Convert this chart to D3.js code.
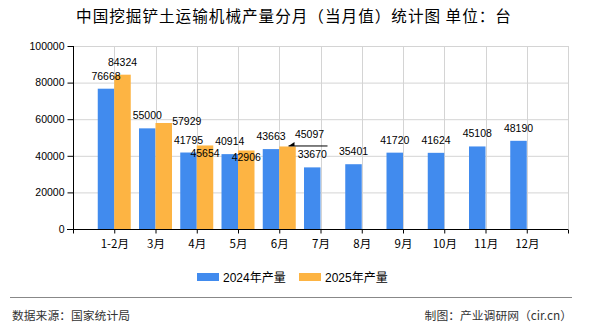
<!DOCTYPE html>
<html><head><meta charset="utf-8">
<script src="https://cdn.jsdelivr.net/npm/d3@7"></script>
<style>
html,body{margin:0;padding:0;background:#fff;}
svg{display:block;}
</style></head>
<body>
<svg id="chart" width="590" height="330"></svg>
<script>
const categories = ["1-2月","3月","4月","5月","6月","7月","8月","9月","10月","11月","12月"];
const values2024 = [76668,55000,41795,40914,43663,33670,35401,41720,41624,45108,48190];
const values2025 = [84324,57929,45654,42906,45097,null,null,null,null,null,null];
const seriesNames = ["2024年产量","2025年产量"];
const seriesColors = ["#418bee","#fdb443"];
const yTicks = [0,20000,40000,60000,80000,100000];
const title = "中国挖掘铲土运输机械产量分月（当月值）统计图 单位：台";
const sourceText = "数据来源：国家统计局";
const creditText = "制图：产业调研网（cir.cn）";

const svg = d3.select("#chart");
const fontNum = "'Liberation Sans','Noto Sans CJK SC',sans-serif";
const fontCJK = "'Noto Sans CJK SC','Liberation Sans',sans-serif";
const L = 73, R = 568, T = 46, B = 229;

const x = d3.scalePoint().domain(categories).range([L, R]).padding(1);
const y = d3.scaleLinear().domain([0, 100000]).range([B, T]);
const sub = d3.scaleBand().domain([0,1]).range([-16.5, 16.5]);

// title
svg.append("text").attr("x", 294).attr("y", 22).attr("text-anchor","middle")
  .style("font-family", fontCJK).style("font-size","15.6px").style("letter-spacing","1px")
  .style("white-space","pre").attr("fill","#000").text(title);

// gridlines
const g = svg.append("g");
g.selectAll(".hg").data(yTicks.filter(d=>d>0)).enter().append("line")
  .attr("x1", L).attr("x2", R).attr("y1", d=>y(d)+0.5).attr("y2", d=>y(d)+0.5)
  .attr("stroke","#d4d4d4").attr("stroke-width",1);
g.selectAll(".vg").data(categories).enter().append("line")
  .attr("x1", d=>Math.round(x(d))+0.5).attr("x2", d=>Math.round(x(d))+0.5).attr("y1", T).attr("y2", B)
  .attr("stroke","#d4d4d4").attr("stroke-width",1);
g.append("line").attr("x1",R+0.5).attr("x2",R+0.5).attr("y1",T).attr("y2",B)
  .attr("stroke","#d4d4d4").attr("stroke-width",1);

// bars
const series = [values2024, values2025];
series.forEach((vals, si) => {
  svg.append("g").selectAll("rect").data(categories.map((c,i)=>({c, v: vals[i]})).filter(d=>d.v!=null))
    .enter().append("rect")
    .attr("x", d => x(d.c) + sub(si))
    .attr("width", sub.bandwidth())
    .attr("y", d => y(d.v))
    .attr("height", d => B - y(d.v))
    .attr("fill", seriesColors[si]);
});

// axes
const yAxis = d3.axisLeft(y).tickValues(yTicks).tickSize(6).tickPadding(3).tickFormat(d3.format("d"));
const ya = svg.append("g").attr("transform",`translate(${L+0.5},0)`).call(yAxis);
ya.select(".domain").attr("stroke","#000").attr("d", `M0,${T}V${B}`);
ya.selectAll("text").style("font-family", fontNum).style("font-size","10.5px").attr("fill","#000");
ya.selectAll(".tick line").attr("stroke","#000");

const xAxis = d3.axisBottom(x).tickSize(4).tickPadding(6);
const xa = svg.append("g").attr("transform",`translate(0,${B+0.5})`).call(xAxis);
xa.select(".domain").attr("stroke","#000").attr("d", `M${L-6},0H${R}`);
xa.selectAll(".tick line").attr("stroke","#000");
xa.selectAll("text").style("font-family", fontCJK).style("font-size","11.5px").attr("fill","#000");
xa.append("line").attr("x1",L+0.5).attr("x2",L+0.5).attr("y1",0).attr("y2",4).attr("stroke","#000");
xa.append("line").attr("x1",R+0.5).attr("x2",R+0.5).attr("y1",0).attr("y2",4).attr("stroke","#000");

// data labels (with collision offsets)
const shifts = [
  {},
  {1:[23,11], 2:[0,21], 3:[0,20], 4:[22,1]}
];
series.forEach((vals, si) => {
  svg.append("g").selectAll("text").data(categories.map((c,i)=>({c, v: vals[i], i})).filter(d=>d.v!=null))
    .enter().append("text")
    .attr("x", d => x(d.c) + sub(si) + sub.bandwidth()/2 + ((shifts[si][d.i]||[0,0])[0]))
    .attr("y", d => y(d.v) - 9 + ((shifts[si][d.i]||[0,0])[1]))
    .attr("text-anchor","middle")
    .style("font-family", fontNum).style("font-size","10.5px").attr("fill","#000")
    .text(d => d.v);
});
// leader line for 6月 2025 label
{
  const c = categories[4], v = values2025[4];
  const x0 = x(c) + sub(1) + sub.bandwidth()/2 + 1, y0 = y(v) - 0.5;
  svg.append("line").attr("x1", x0).attr("x2", x0 + 39).attr("y1", y0).attr("y2", y0)
    .attr("stroke","#000").attr("stroke-width",1);
  svg.append("path").attr("d", `M${x0},${y0}L${x0+6},${y0-4}L${x0+6},${y0}Z`).attr("fill","#000");
}

// legend
const lg = svg.append("g");
const legX = [197, 299];
seriesNames.forEach((n, i) => {
  lg.append("rect").attr("x", legX[i]).attr("y", 273).attr("width", 22).attr("height", 8).attr("fill", seriesColors[i]);
  lg.append("text").attr("x", legX[i]+26).attr("y", 281.5).style("font-family", fontNum)
    .style("font-size","12px").attr("fill","#000").text(n);
});

// footer
svg.append("line").attr("x1",10).attr("x2",572).attr("y1",297.5).attr("y2",297.5).attr("stroke","#888").attr("stroke-width",1.2);
svg.append("text").attr("x",12).attr("y",320).style("font-family", fontCJK).style("font-size","11.8px").attr("fill","#333").text(sourceText);
svg.append("text").attr("x",572).attr("y",320).attr("text-anchor","end").style("font-family", fontCJK).style("font-size","11.8px").attr("fill","#333").text(creditText);
</script>
</body></html>
